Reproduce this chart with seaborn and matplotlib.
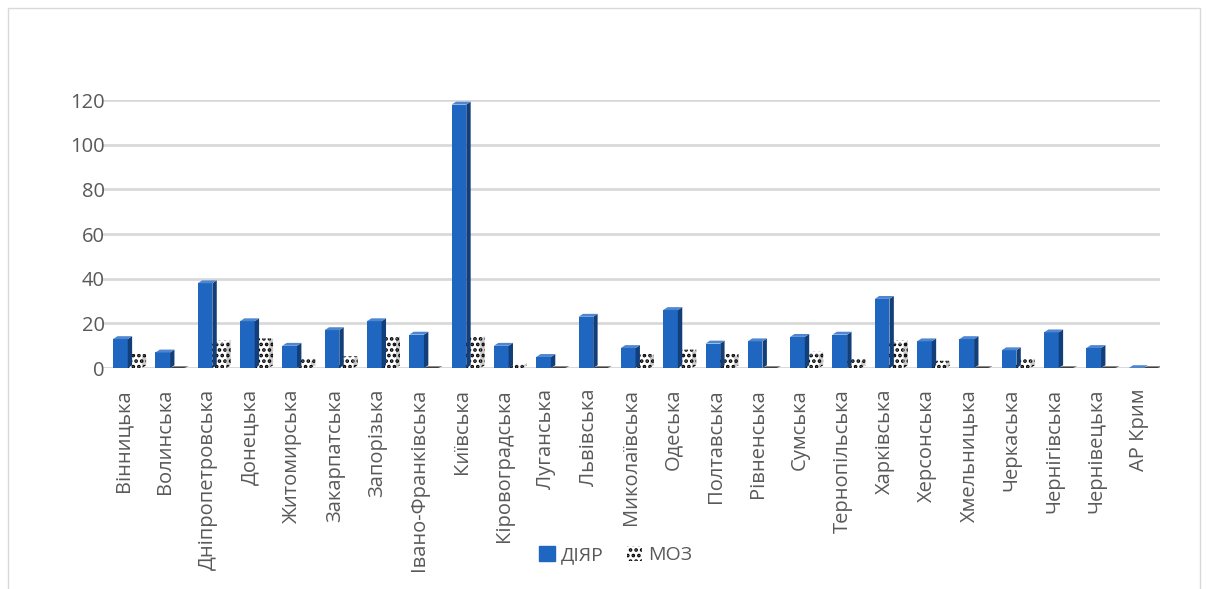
import matplotlib
matplotlib.use("Agg")
import matplotlib.pyplot as plt
from matplotlib.patches import Polygon, Patch, Rectangle
import seaborn as sns
import pandas as pd

regions = ["Вінницька", "Волинська", "Дніпропетровська", "Донецька", "Житомирська",
           "Закарпатська", "Запорізька", "Івано-Франківська", "Київська", "Кіровоградська",
           "Луганська", "Львівська", "Миколаївська", "Одеська", "Полтавська",
           "Рівненська", "Сумська", "Тернопільська", "Харківська", "Херсонська",
           "Хмельницька", "Черкаська", "Чернігівська", "Чернівецька", "АР Крим"]
diyar = [13, 7, 38, 21, 10, 17, 21, 15, 118, 10, 5, 23, 9, 26, 11, 12, 14, 15, 31, 12, 13, 8, 16, 9, 0]
moz = [5, 0, 11, 12, 3, 4, 13, 0, 13, 1, 0, 0, 5, 7, 5, 0, 6, 3, 11, 2, 0, 3, 0, 0, 0]
series = ["ДІЯР", "МОЗ"]
yticks = [0, 20, 40, 60, 80, 100, 120]

df = pd.DataFrame({
    "region": regions * 2,
    "value": diyar + moz,
    "source": [series[0]] * len(regions) + [series[1]] * len(regions),
})

sns.set_theme(style="white")
plt.rcParams["font.family"] = ["Open Sans", "DejaVu Sans"]
plt.rcParams["hatch.linewidth"] = 1.8

BLUE = "#1E66C0"
BLUE_SIDE = "#123F7A"
BLUE_TOP = "#4F86D0"
TXT = "#595959"

fig = plt.figure(figsize=(12.07, 5.89), dpi=100)
ax = fig.add_axes([0.0845, 0.375, 0.8765, 0.455])

sns.barplot(data=df, x="region", y="value", hue="source", hue_order=series,
            palette=[BLUE, "white"], width=0.66, gap=-0.05, legend=False,
            ax=ax, zorder=3)

n = len(regions)
bars = list(ax.patches)
for i, p in enumerate(bars):
    is_moz = i >= n
    # nudge the pair so the blue column sits on the category tick
    p.set_x(p.get_x() + 0.1)
    x, w, h = p.get_x(), p.get_width(), p.get_height()
    dx, dy = w * 0.3, 1.3
    if is_moz:
        p.set_facecolor("white")
        p.set_edgecolor("black")
        p.set_hatch("...")
        p.set_linewidth(0)
        p.set_zorder(2)
        side_fc, top_fc, hatch, z = "white", "white", "...", 1.9
        ec = "black"
    else:
        p.set_facecolor(BLUE)
        p.set_edgecolor(BLUE)
        p.set_linewidth(0)
        side_fc, top_fc, hatch, z = BLUE_SIDE, BLUE_TOP, None, 3.1
        ec = "none"
    if is_moz and h == 0:
        # empty entries show only a thin dark floor mark
        ax.add_patch(Polygon([(x, 0), (x + dx, dy * 0.6), (x + w + dx, dy * 0.6), (x + w, 0)],
                             closed=True, facecolor="#404040", linewidth=0, zorder=z))
        continue
    side = Polygon([(x + w, 0), (x + w + dx, dy), (x + w + dx, h + dy), (x + w, h)],
                   closed=True, facecolor=side_fc, edgecolor=ec,
                   hatch=hatch, linewidth=0, zorder=z)
    top = Polygon([(x, h), (x + dx, h + dy), (x + w + dx, h + dy), (x + w, h)],
                  closed=True, facecolor=top_fc, edgecolor=ec,
                  hatch=hatch, linewidth=0, zorder=z)
    ax.add_patch(side)
    ax.add_patch(top)
    if is_moz:
        ax.add_patch(Polygon([(x + w, 0), (x + w + dx, dy), (x + w + dx, h + dy), (x + w, h)],
                             closed=True, facecolor=(0, 0, 0, 0.2), linewidth=0, zorder=z))

ax.set_ylim(0, 120)
ax.set_xlim(-0.5, n - 0.5)
ax.set_yticks(yticks)
ax.yaxis.grid(True, color="#D9D9D9", linewidth=2)
ax.set_axisbelow(True)
for s in ax.spines.values():
    s.set_visible(False)
ax.axhline(0, color="#D9D9D9", linewidth=2, zorder=0.5)

ax.set_xlabel("")
ax.set_ylabel("")
ax.tick_params(axis="y", labelsize=14.5, labelcolor=TXT, length=0, pad=-2)
ax.tick_params(axis="x", labelsize=14.5, labelcolor=TXT, length=0, pad=15)
for lab in ax.get_xticklabels():
    lab.set_rotation(90)

handles = [Patch(facecolor=BLUE, edgecolor=BLUE, label=series[0]),
           Patch(facecolor="white", edgecolor="black", hatch="...", linewidth=0, label=series[1])]
fig.legend(handles=handles, loc="center", bbox_to_anchor=(0.51, 0.058), ncol=2,
           frameon=False, fontsize=14, labelcolor=TXT, handlelength=0.8, handleheight=0.8,
           handletextpad=0.3, columnspacing=1.2)

fig.add_artist(Rectangle((0.007, -0.01), 0.987, 0.997, transform=fig.transFigure,
                         fill=False, edgecolor="#D9D9D9", linewidth=1))

fig.savefig("out.png", dpi=100)
